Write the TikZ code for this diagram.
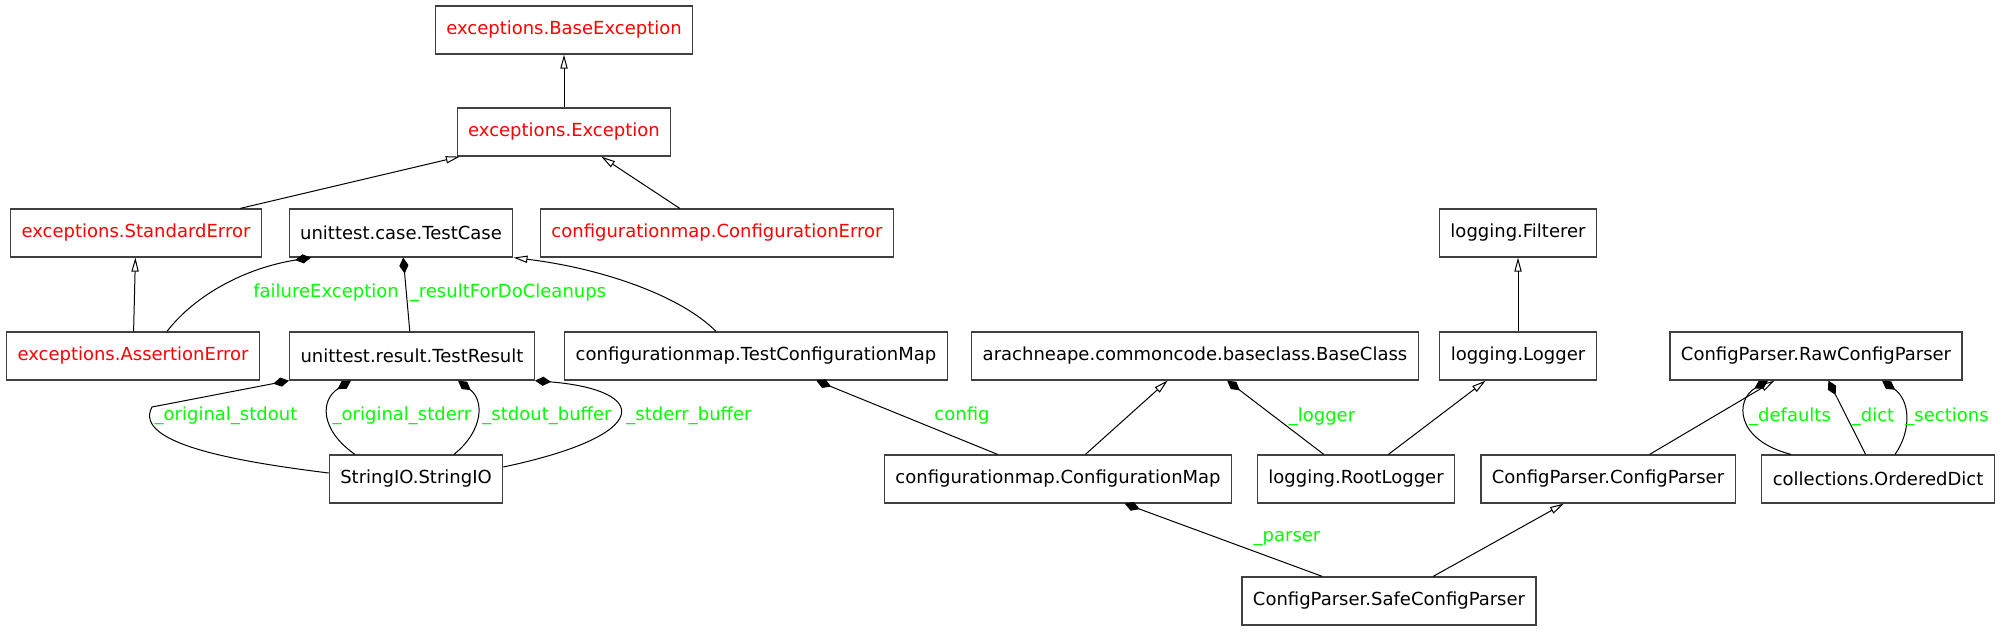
\documentclass[tikz,border=0pt]{standalone}
\usepackage{fontspec}
\setmainfont{DejaVu Sans}
\usetikzlibrary{arrows.meta}
\definecolor{ExcRed}{HTML}{FF0000}
\definecolor{AttrGreen}{HTML}{00FF00}

\begin{document}
\begin{tikzpicture}[x=.5pt,y=-.5pt,
  font=\fontsize{9pt}{11pt}\selectfont,
  cls/.style={draw=black!75,line width=.6pt,fill=white,minimum height=24pt,
    inner xsep=5.5pt,inner ysep=2pt},
  exc/.style={cls,text=ExcRed},
  inh/.style={-{Triangle[open,length=7pt,width=3.6pt]},line width=.5pt},
  comp/.style={-{Diamond[length=8pt,width=4.6pt]},line width=.5pt},
  attr/.style={text=AttrGreen,inner sep=1pt}]
\useasboundingbox (0,0) rectangle (2001,632);
% classes
\node[exc](baseexc) at (564,30){exceptions.BaseException};
\node[exc](exception) at (564,132){exceptions.Exception};
\node[exc](stderror) at (136,233){exceptions.StandardError};
\node[cls](testcase) at (401,233){unittest.case.TestCase};
\node[exc](conferror) at (717,233){configurationmap.ConfigurationError};
\node[cls](filterer) at (1518,233){logging.Filterer};
\node[exc](asserterr) at (133,356){exceptions.AssertionError};
\node[cls](testresult) at (412,356){unittest.result.TestResult};
\node[cls](testconfmap) at (756,356){configurationmap.TestConfigurationMap};
\node[cls](baseclass) at (1195,356){arachneape.commoncode.baseclass.BaseClass};
\node[cls](logger) at (1518,356){logging.Logger};
\node[cls](rawcp) at (1816,356){ConfigParser.RawConfigParser};
\node[cls](stringio) at (416,479){StringIO.StringIO};
\node[cls](confmap) at (1058,479){configurationmap.ConfigurationMap};
\node[cls](rootlogger) at (1356,479){logging.RootLogger};
\node[cls](configparser) at (1608,479){ConfigParser.ConfigParser};
\node[cls](odict) at (1878,479){collections.OrderedDict};
\node[cls](safecp) at (1389,601){ConfigParser.SafeConfigParser};
% inheritance
\draw[inh](exception)--(baseexc);
\draw[inh](stderror)--(exception);
\draw[inh](conferror)--(exception);
\draw[inh](asserterr)--(stderror);
\draw[inh]([xshift=-20pt]testconfmap.north) .. controls (680,295) and (600,268) .. (testcase.south east);
\draw[inh](logger)--(filterer);
\draw[inh](confmap)--(baseclass);
\draw[inh](rootlogger)--(logger);
\draw[inh](configparser)--(rawcp);
\draw[inh](safecp)--(configparser);
% composition
\draw[comp]([xshift=17pt]asserterr.north) .. controls (195,295) and (245,268) .. ([xshift=-45pt]testcase.south);
\draw[comp](testresult)--(testcase);
\draw[comp]([yshift=3pt]stringio.west) .. controls (240,462) and (132,444) .. (152,407) -- (testresult.south west);
\draw[comp]([xshift=-30.5pt]stringio.north) .. controls (320,430) and (320,400) .. ([xshift=-30.5pt]testresult.south);
\draw[comp]([xshift=19pt]stringio.north) .. controls (484,430) and (484,400) .. ([xshift=23pt]testresult.south);
\draw[comp]([yshift=6pt]stringio.east) .. controls (655,435) and (650,390) .. (testresult.south east);
\draw[comp](confmap)--(testconfmap);
\draw[comp](rootlogger)--(baseclass);
\draw[comp](safecp)--(confmap);
\draw[comp]([xshift=-43.5pt]odict.north) .. controls (1735,440) and (1735,400) .. ([xshift=-24pt]rawcp.south);
\draw[comp](odict)--(rawcp);
\draw[comp]([xshift=8.5pt]odict.north) .. controls (1912,430) and (1910,400) .. ([xshift=33pt]rawcp.south);
% attribute names
\node[attr](lfailure) at (326,293){failureException};
\node[attr](lcleanups) at (508,293){\_resultForDoCleanups};
\node[attr](lorigout) at (226,416){\_original\_stdout};
\node[attr](lorigerr) at (402,416){\_original\_stderr};
\node[attr](loutbuf) at (547,416){\_stdout\_buffer};
\node[attr](lerrbuf) at (689,416){\_stderr\_buffer};
\node[attr](lconfig) at (962,416){config};
\node[attr](llogger) at (1322,417){\_logger};
\node[attr](lparser) at (1287,539){\_parser};
\node[attr](ldefaults) at (1790,417){\_defaults};
\node[attr](ldict) at (1873,417){\_dict};
\node[attr](lsections) at (1947,417){\_sections};
\end{tikzpicture}
\end{document}
